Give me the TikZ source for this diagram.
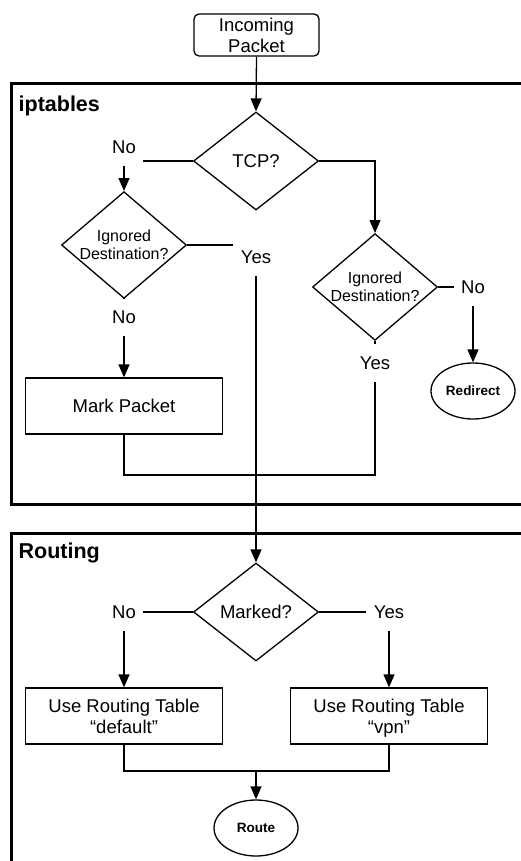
\documentclass[tikz,border=0pt]{standalone}
\usepackage{fontspec}
\setmainfont{Liberation Sans}
\usetikzlibrary{shapes.geometric,arrows.meta}

\begin{document}
\begin{tikzpicture}[x=1pt,y=1pt,line width=1.3pt,
  txt/.style={font=\fontsize{18.5}{21}\selectfont,align=center},
  small/.style={font=\fontsize{16}{18}\selectfont},
  lbl/.style={txt,inner xsep=7pt,inner ysep=12pt},
  startbox/.style={txt,draw,rounded corners=5pt,minimum width=125pt,minimum height=42pt,inner sep=0pt},
  box/.style={txt,draw,minimum width=197pt,minimum height=56pt,inner sep=0pt,text depth=0pt},
  decision/.style={txt,draw,diamond,minimum width=125pt,minimum height=98pt,inner sep=-3pt},
  term/.style={draw,ellipse,minimum width=84pt,minimum height=56pt,inner sep=0pt,font=\bfseries\fontsize{13.5}{16}\selectfont},
  frame/.style={line width=3pt},
  title/.style={font=\bfseries\fontsize{21.5}{24}\selectfont,anchor=west,inner sep=0pt},
  arr/.style={-{Triangle[length=13pt,width=11pt]}}]
\useasboundingbox (0,0) rectangle (521,-861);

\draw[frame] (521,-84) -- (11,-84) -- (11,-504) -- (521,-504);
\draw[frame] (521,-533) -- (11,-533) -- (11,-861);

\node[startbox] (inc) at (256.5,-35) {Incoming\\Packet};
\node[title] (iptlbl) at (18,-106) {iptables};
\node[decision] (tcp) at (256,-161) {TCP?};
\node[decision,small] (ign1) at (124,-245) {Ignored\\Destination?};
\node[decision,small] (ign2) at (375,-287) {Ignored\\Destination?};
\node[lbl] (no1) at (124,-147) {No};
\node[lbl] (yes1) at (256,-257) {Yes};
\node[lbl] (no2) at (124,-317) {No};
\node[box] (mark) at (124,-406) {Mark Packet};
\node[lbl] (no3) at (473,-287) {No};
\node[lbl] (yes2) at (375,-363) {Yes};
\node[term] (redir) at (473,-391) {Redirect};
\coordinate (mrg) at (256,-475);

\node[title] (rtlbl) at (18,-553) {Routing};
\node[decision] (marked) at (256,-612) {Marked?};
\node[lbl] (no4) at (124,-612) {No};
\node[lbl] (yes4) at (389,-612) {Yes};
\node[box] (deflt) at (124,-716) {Use Routing Table\\“default”};
\node[box] (vpn) at (389,-716) {Use Routing Table\\“vpn”};
\coordinate (rjoin) at (256,-771);
\node[term] (route) at (256,-828) {Route};

\draw[arr] (inc.south) -- (tcp.north);
\draw (tcp.west) -- (tcp.west -| no1.east);
\draw[arr] (no1.south) -- (ign1.north);
\draw (ign1.east) -- (ign1.east -| yes1.west);
\draw[arr] (yes1.south) -- (marked.north);
\draw (ign1.south) -- (no2.north);
\draw[arr] (no2.south) -- (mark.north);
\draw[arr] (tcp.east) -| (ign2.north);
\draw (ign2.east) -- (ign2.east -| no3.west);
\draw[arr] (no3.south) -- (redir.north);
\draw (ign2.south) -- (yes2.north);
\draw (mark.south) |- (mrg) -| (yes2.south);

\draw (marked.west) -- (marked.west -| no4.east);
\draw (marked.east) -- (marked.east -| yes4.west);
\draw[arr] (no4.south) -- (deflt.north);
\draw[arr] (yes4.south) -- (vpn.north);
\draw (deflt.south) |- (rjoin) -| (vpn.south);
\draw[arr] (rjoin) -- (route.north);
\end{tikzpicture}
\end{document}
